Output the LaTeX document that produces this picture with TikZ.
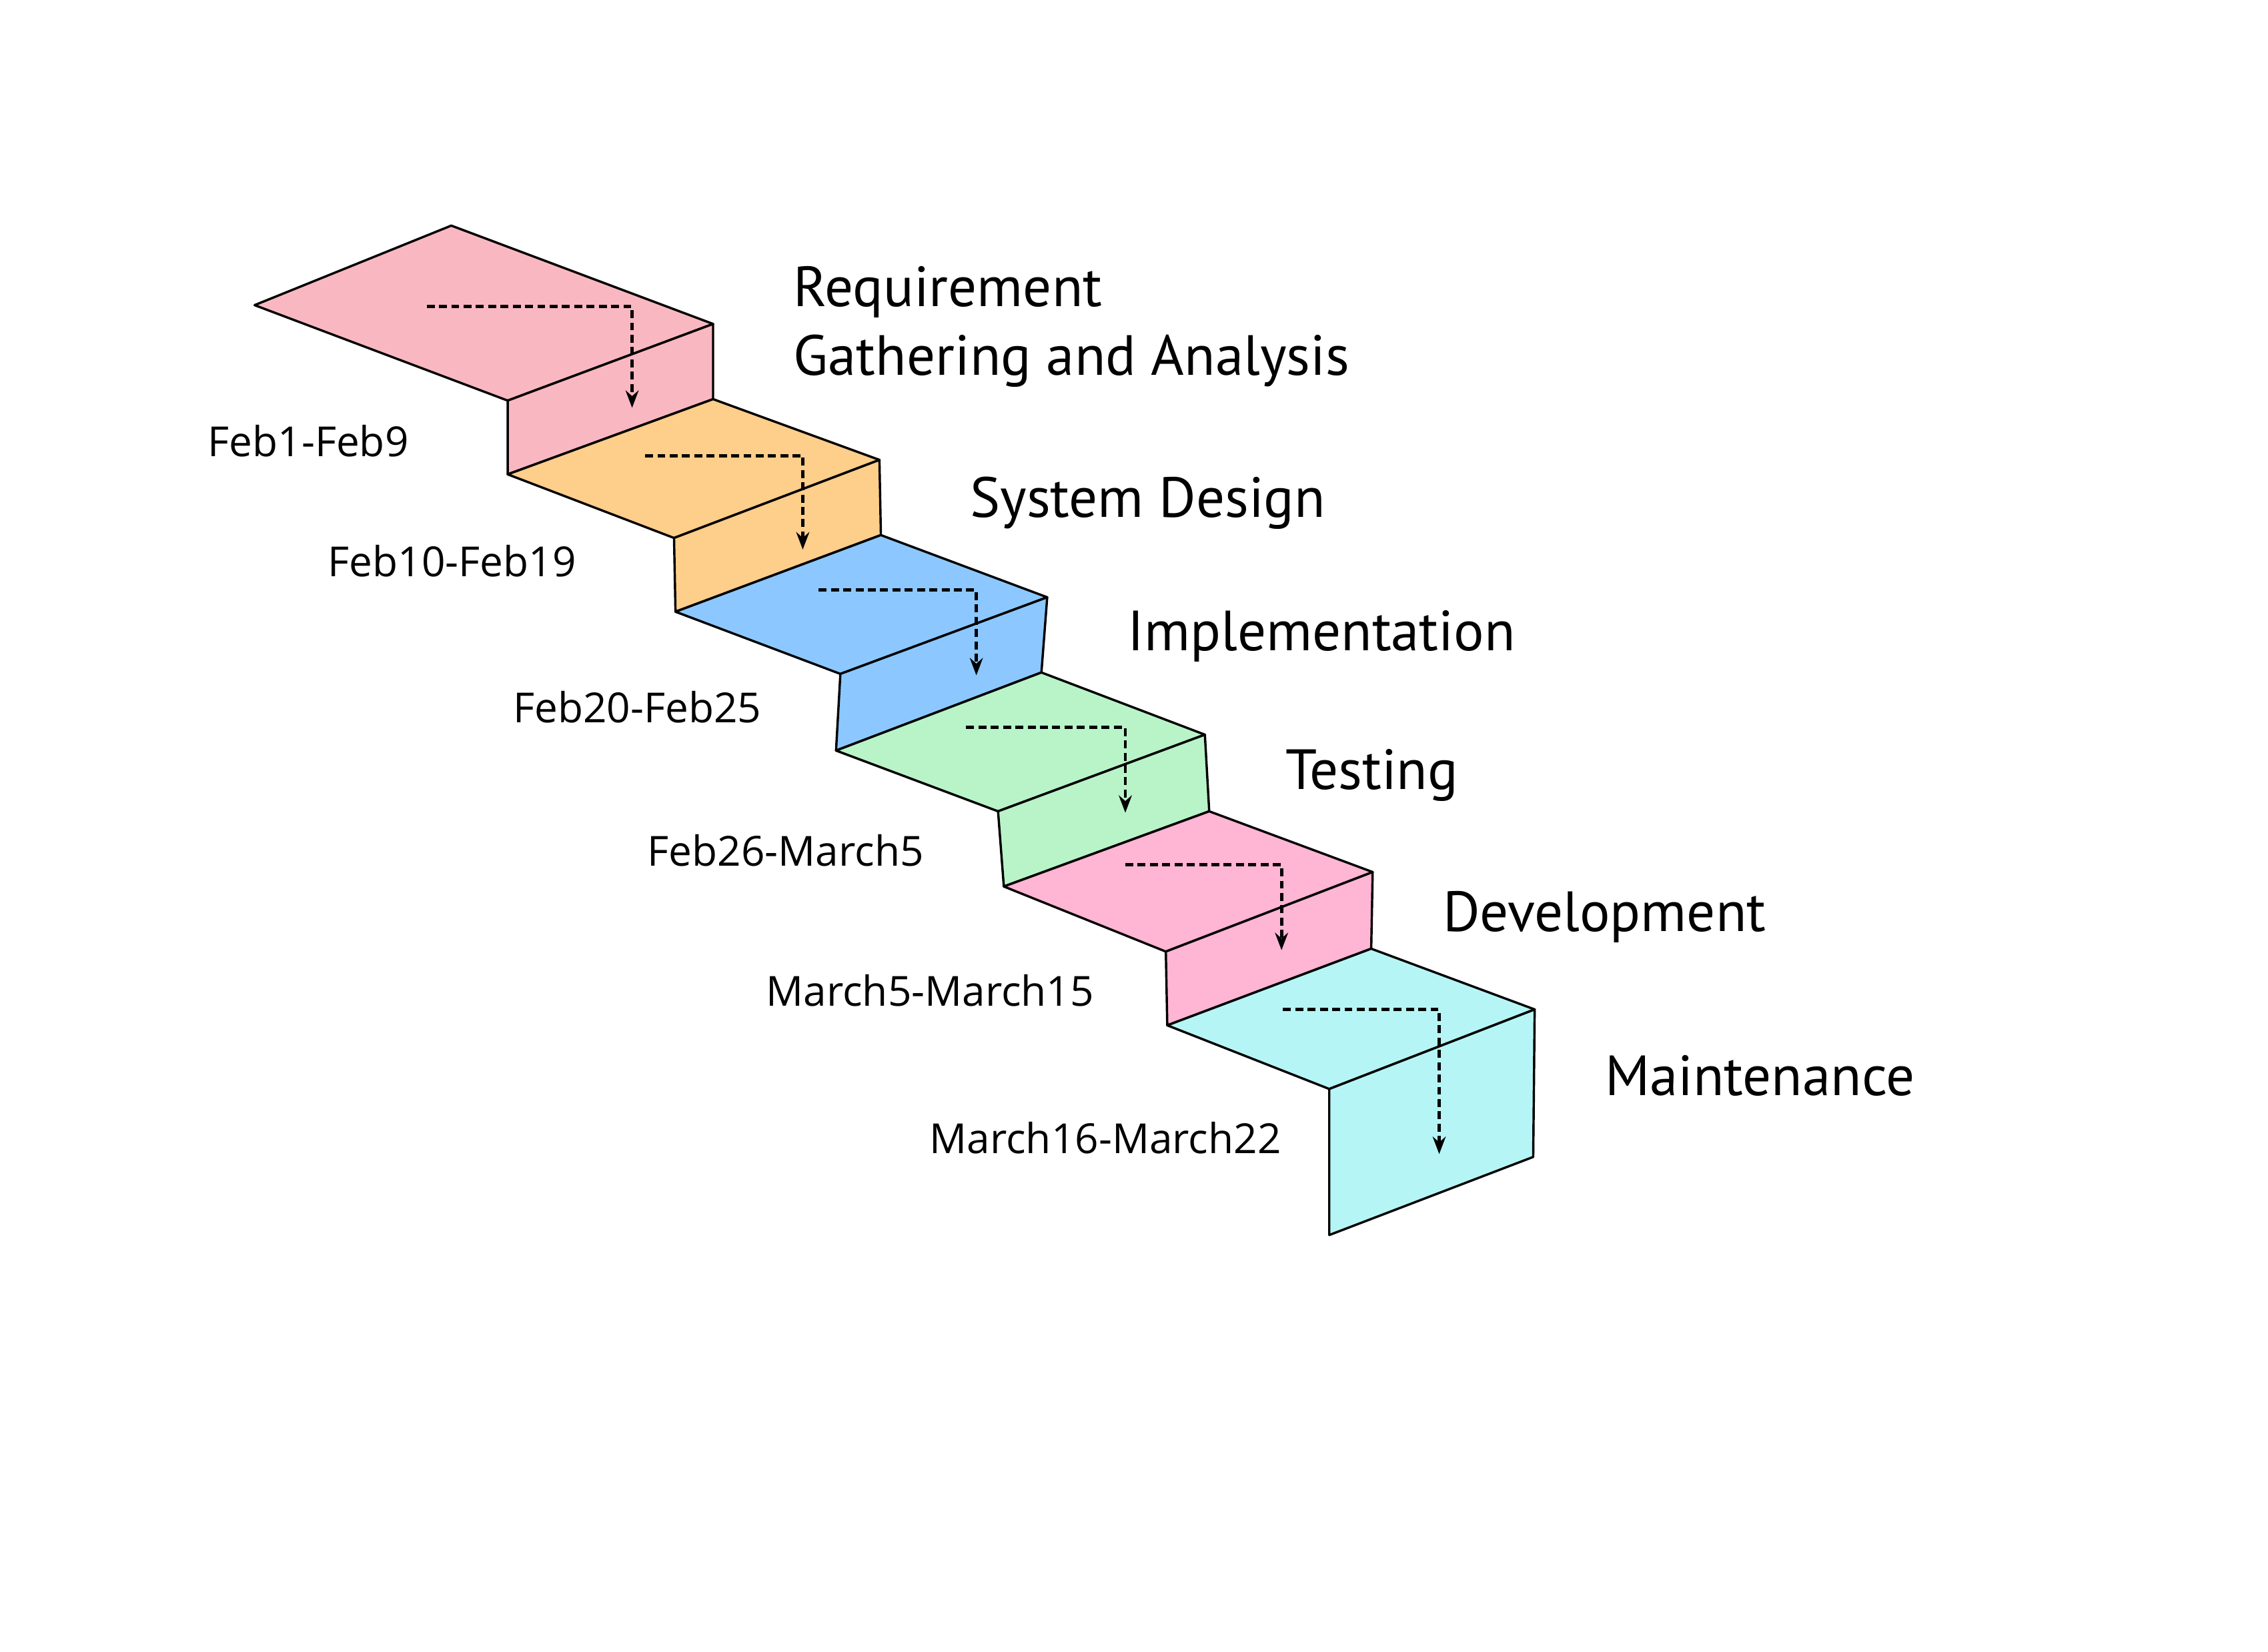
\documentclass[tikz,border=0pt]{standalone}
\usepackage{fontspec}
\setmainfont{Open Sans}
\newfontfamily\phasefont{PT Sans}
\usetikzlibrary{arrows.meta, positioning}

\definecolor{reqpink}{RGB}{249,184,193}
\definecolor{desorange}{RGB}{254,206,139}
\definecolor{impblue}{RGB}{140,200,255}
\definecolor{testgreen}{RGB}{184,244,200}
\definecolor{devpink}{RGB}{255,181,212}
\definecolor{maincyan}{RGB}{182,245,245}

\begin{document}
\begin{tikzpicture}[x=0.1mm, y=-0.1mm]
  \tikzstyle{face} = [draw=black, line width=0.45pt, line join=round]
  \tikzstyle{flow} = [line width=0.65pt, dash pattern=on 0.55mm off 0.3mm, -{Stealth[length=1.2mm, width=0.9mm]}]
  \tikzstyle{phase} = [anchor=west, align=left, inner sep=0pt, font=\phasefont\fontsize{11.15}{13.5}\selectfont]
  \tikzstyle{period} = [anchor=west, inner sep=0pt, font=\fontsize{8.15}{10}\selectfont]

  \useasboundingbox (0,0) rectangle (1568,1142);

  % Step 1: Requirement
  \draw[face, fill=reqpink] (176,211) -- (312,156) -- (493,224) -- (351,277) -- cycle;
  \draw[face, fill=reqpink] (351,277) -- (493,224) -- (493,276) -- (351,328) -- cycle;

  % Step 2: System Design
  \draw[face, fill=desorange] (351,328) -- (493,276) -- (608,318) -- (466,372) -- cycle;
  \draw[face, fill=desorange] (466,372) -- (608,318) -- (609,370) -- (467,423) -- cycle;

  % Step 3: Implementation
  \draw[face, fill=impblue] (467,423) -- (609,370) -- (724,413) -- (581,466) -- cycle;
  \draw[face, fill=impblue] (581,466) -- (724,413) -- (720,465) -- (578,519) -- cycle;

  % Step 4: Testing
  \draw[face, fill=testgreen] (578,519) -- (720,465) -- (833,508) -- (690,561) -- cycle;
  \draw[face, fill=testgreen] (690,561) -- (833,508) -- (836,561) -- (694,613) -- cycle;

  % Step 5: Development
  \draw[face, fill=devpink] (694,613) -- (836,561) -- (949,603) -- (806,658) -- cycle;
  \draw[face, fill=devpink] (806,658) -- (949,603) -- (948,656) -- (807,709) -- cycle;

  % Step 6: Maintenance
  \draw[face, fill=maincyan] (807,709) -- (948,656) -- (1061,698) -- (919,753) -- cycle;
  \draw[face, fill=maincyan] (919,753) -- (1061,698) -- (1060,800) -- (919,854) -- cycle;

  % Flow coordinates
  \coordinate (req-in) at (295,212);   \coordinate (req-out) at (437,282);
  \coordinate (des-in) at (446,315);   \coordinate (des-out) at (555,380);
  \coordinate (imp-in) at (566,408);   \coordinate (imp-out) at (675,467);
  \coordinate (test-in) at (668,503);  \coordinate (test-out) at (778,562);
  \coordinate (dev-in) at (778,598);   \coordinate (dev-out) at (886,657);
  \coordinate (main-in) at (887,698);  \coordinate (main-out) at (995,798);

  % Dashed arrows
  \draw[flow] (req-in) -| (req-out);
  \draw[flow] (des-in) -| (des-out);
  \draw[flow] (imp-in) -| (imp-out);
  \draw[flow] (test-in) -| (test-out);
  \draw[flow] (dev-in) -| (dev-out);
  \draw[flow] (main-in) -| (main-out);

  % Phase names
  \node (req) at (548,226) [phase] {Requirement\\Gathering and Analysis};
  \node (des) at (670,348) [phase] {System Design};
  \node (imp) at (779,440) [phase] {Implementation};
  \node (test) at (888,536) [phase] {Testing};
  \node (dev) at (997,634) [phase] {Development};
  \node (main) at (1109,744) [phase] {Maintenance};

  % Periods
  \node (req-date) at (143,305) [period] {Feb1-Feb9};
  \node (des-date) at (226,388) [period] {Feb10-Feb19};
  \node (imp-date) at (354,489) [period] {Feb20-Feb25};
  \node (test-date) at (447,588) [period] {Feb26-March5};
  \node (dev-date) at (529,685) [period] {March5-March15};
  \node (main-date) at (642,787) [period] {March16-March22};
\end{tikzpicture}
\end{document}
